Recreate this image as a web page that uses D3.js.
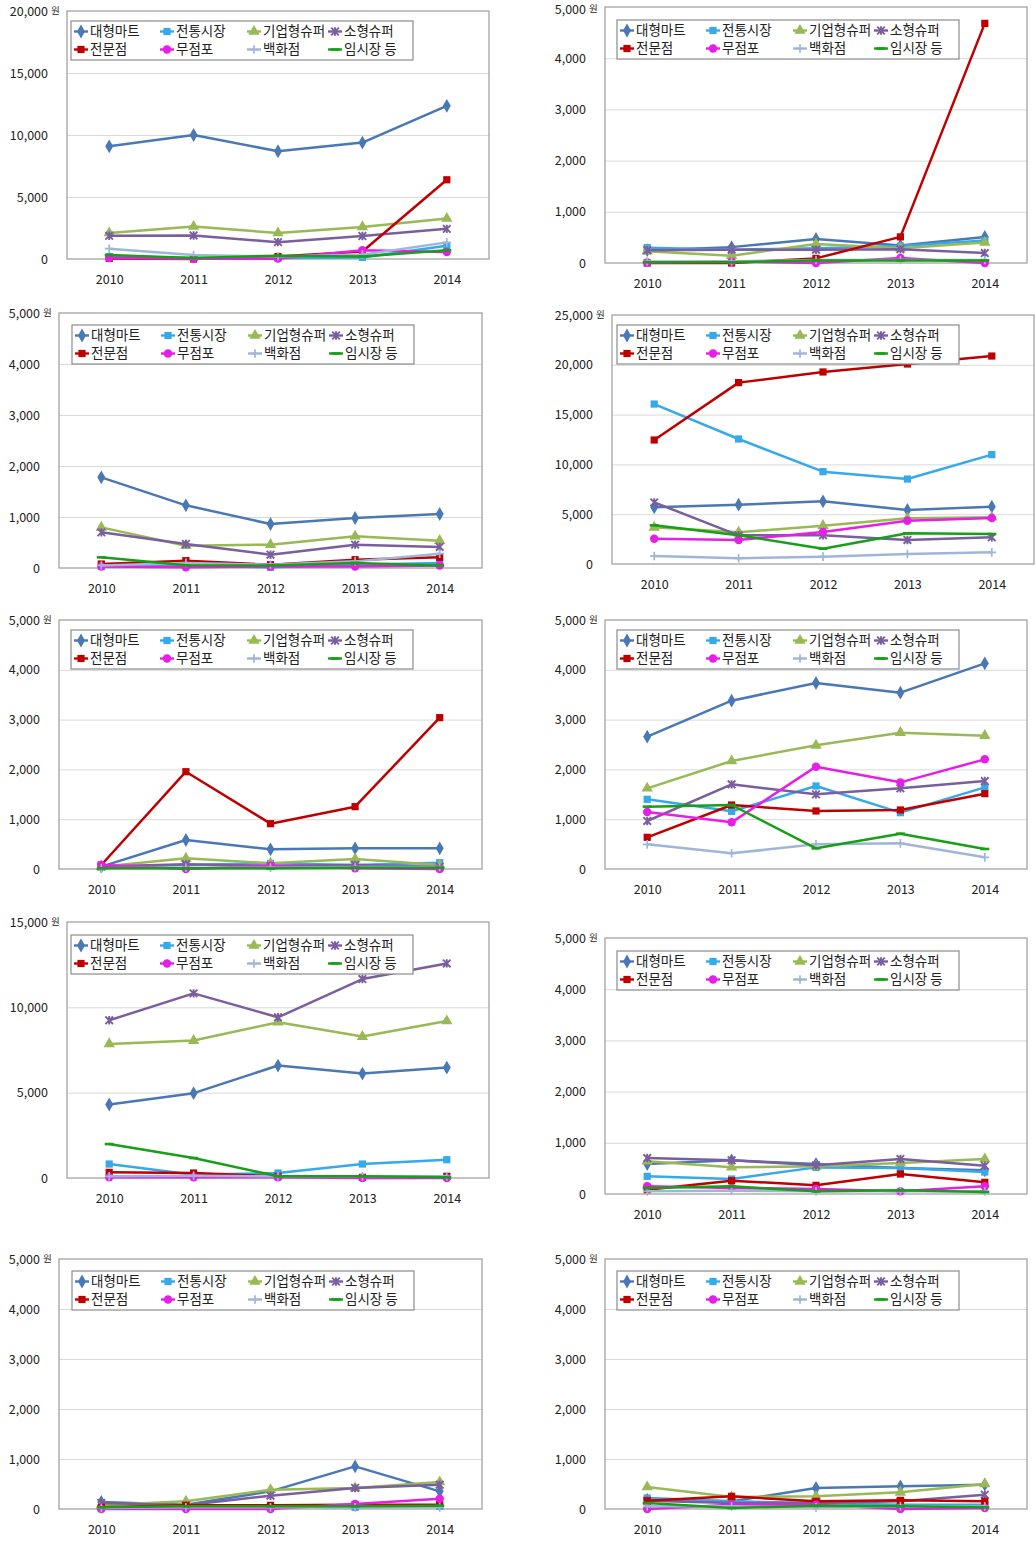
<!DOCTYPE html>
<html><head><meta charset="utf-8">
<script src="https://cdn.jsdelivr.net/npm/d3@7"></script>
<style>body{margin:0;background:#fff} svg text{font-family:"Noto Sans CJK KR","Noto Sans",sans-serif}</style>
</head><body><svg id="c" width="1036" height="1546"></svg>
<script>
// ---------- data ----------
const years = ["2010","2011","2012","2013","2014"];
const seriesNames = ["대형마트","전통시장","기업형슈퍼","소형슈퍼","전문점","무점포","백화점","임시장 등"];
const yMaxes = [20000,5000,5000,25000,5000,5000,15000,5000,5000,5000];
const ySteps = [5000,1000,1000,5000,1000,1000,5000,1000,1000,1000];
const unitLabel = "원";

const panel1 = [[9090,10000,8690,9390,12350],[200,80,80,130,1070],[2090,2620,2090,2590,3260],[1870,1900,1360,1850,2430],[50,0,200,600,6390],[80,20,30,700,560],[830,320,200,350,1340],[320,80,270,210,700]];
const panel2 = [[250,310,470,340,510],[300,260,290,330,440],[230,140,370,290,400],[250,260,260,270,195],[0,0,90,510,4680],[10,30,0,100,0],[30,30,60,60,60],[15,15,50,50,50]];
const panel3 = [[1778,1229,863,980,1059],[30,50,13,65,100],[797,438,458,621,536],[699,471,261,458,412],[78,144,65,163,209],[30,13,30,30,50],[50,100,65,130,280],[209,52,50,100,50]];
const panel4 = [[5690,5960,6290,5420,5760],[16060,12550,9270,8530,10980],[3680,3180,3850,4590,4690],[6190,2880,2880,2410,2680],[12450,18210,19280,20080,20880],[2540,2410,3210,4350,4620],[800,570,740,1000,1170],[3880,2880,1540,3080,3010]];
const panel5 = [[47,582,395,415,415],[47,80,114,80,127],[47,214,114,200,80],[50,94,60,80,47],[80,1954,910,1252,3039],[80,0,67,13,0],[13,27,27,40,40],[13,13,13,27,27]];
const panel6 = [[2657,3380,3735,3541,4130],[1399,1158,1667,1131,1640],[1620,2169,2483,2738,2677],[964,1700,1499,1620,1767],[636,1285,1165,1185,1513],[1145,937,2055,1740,2202],[495,315,495,515,234],[1252,1285,415,709,402]];
const panel7 = [[4308,4971,6589,6121,6472],[819,195,292,819,1072],[7856,8051,9123,8285,9201],[9240,10819,9415,11657,12573],[331,292,97,39,97],[39,39,39,0,0],[97,136,97,97,97],[1988,1170,97,97,39]];
const panel8 = [[586,658,586,508,462],[345,293,520,508,430],[638,521,540,605,684],[703,658,560,684,553],[85,260,169,390,228],[150,117,98,52,150],[52,65,52,52,52],[117,150,52,72,39]];
const panel9 = [[140,87,353,852,353],[20,53,53,33,53],[73,153,386,420,539],[120,73,266,420,486],[33,73,73,87,87],[0,0,0,100,206],[20,33,33,33,33],[33,53,53,53,67]];
const panel10 = [[186,153,420,453,486],[220,153,120,87,87],[439,240,253,333,499],[166,120,120,153,286],[166,253,153,173,153],[0,87,87,0,20],[53,53,33,53,53],[120,20,67,53,33]];
const panels = [panel1,panel2,panel3,panel4,panel5,panel6,panel7,panel8,panel9,panel10];

// ---------- layout & style ----------
const layout = [
 {l:67,t:11,r:489,b:259,lx:71,ly:21},
 {l:605,t:7,r:1027,b:263,lx:617,ly:20},
 {l:59,t:313,r:482,b:568,lx:72,ly:325},
 {l:612,t:315,r:1034,b:564,lx:617,ly:325},
 {l:59,t:620,r:482,b:869,lx:71,ly:630},
 {l:605,t:620,r:1027,b:869,lx:617,ly:630},
 {l:67,t:922,r:489,b:1178,lx:71,ly:935},
 {l:605,t:938,r:1027,b:1194,lx:617,ly:951},
 {l:59,t:1259,r:482,b:1509,lx:72,ly:1271},
 {l:605,t:1259,r:1027,b:1509,lx:617,ly:1271}
];
const colors = ["#4a78b4","#35a9ea","#98b954","#7a5e9e","#c00000","#e61ee6","#a0b6d8","#17a017"];
const markers = ["diamond","square","triangle","star","square","circle","plus","dash"];

const svg = d3.select("#c");

function drawMarker(g, type, x, y, color) {
  const tr = `translate(${x},${y})`;
  if (type === "diamond") g.append("path").attr("d", d3.symbol(d3.symbolDiamond, 55)()).attr("transform", tr).attr("fill", color);
  else if (type === "square") g.append("path").attr("d", d3.symbol(d3.symbolSquare, 52)()).attr("transform", tr).attr("fill", color);
  else if (type === "triangle") g.append("path").attr("d", d3.symbol(d3.symbolTriangle, 56)()).attr("transform", tr).attr("fill", color);
  else if (type === "circle") g.append("path").attr("d", d3.symbol(d3.symbolCircle, 56)()).attr("transform", tr).attr("fill", color);
  else if (type === "star") g.append("path").attr("d", "M-3.8,-3.8L3.8,3.8M-3.8,3.8L3.8,-3.8M0,-4.2L0,4.2").attr("transform", tr).attr("stroke", color).attr("stroke-width", 1.9).attr("fill","none");
  else if (type === "plus") g.append("path").attr("d", "M-4.3,0L4.3,0M0,-4.3L0,4.3").attr("transform", tr).attr("stroke", color).attr("stroke-width", 1.7).attr("fill","none");
  else if (type === "dash") g.append("path").attr("d", "M-4.5,0L4.5,0").attr("transform", tr).attr("stroke", color).attr("stroke-width", 2.6).attr("fill","none");
}

panels.forEach((data, pi) => {
  const L = layout[pi];
  const g = svg.append("g");
  const x = d3.scalePoint().domain(years).range([L.l, L.r]).padding(0.5);
  const y = d3.scaleLinear().domain([0, yMaxes[pi]]).range([L.b, L.t]);
  const ticks = d3.range(0, yMaxes[pi] + 1, ySteps[pi]);

  // gridlines
  const grid = g.append("g").attr("transform", `translate(${L.l},0)`)
    .call(d3.axisLeft(y).tickValues(ticks.slice(1, -1)).tickSize(-(L.r - L.l)).tickFormat(""));
  grid.select(".domain").remove();
  grid.selectAll("line").attr("stroke", "#d9d9d9").attr("stroke-width", 1);

  // plot border
  g.append("rect").attr("x", L.l).attr("y", L.t).attr("width", L.r - L.l).attr("height", L.b - L.t)
    .attr("fill", "none").attr("stroke", "#a3a3a3").attr("stroke-width", 1.3);

  // y axis labels
  const ya = g.append("g").attr("transform", `translate(${L.l},0)`)
    .call(d3.axisLeft(y).tickValues(ticks).tickSize(0).tickPadding(19).tickFormat(d3.format(",")));
  ya.select(".domain").remove();
  ya.selectAll("text").attr("font-size", 12.5).attr("fill", "#222");
  // keep the top label inside the page
  ya.selectAll(".tick").filter(d => d === yMaxes[pi]).select("text").attr("y", Math.max(0, 9 - L.t));
  g.append("text").attr("x", L.l - 16).attr("y", Math.max(y(yMaxes[pi]), 9)).attr("dy", "0.32em")
    .attr("font-size", 9.5).attr("fill", "#222").text(unitLabel);

  // x axis labels
  const xa = g.append("g").attr("transform", `translate(0,${L.b})`)
    .call(d3.axisBottom(x).tickSize(0).tickPadding(16));
  xa.select(".domain").remove();
  xa.selectAll("text").attr("font-size", 12.5).attr("fill", "#222");

  // series
  const line = d3.line().x((d, i) => x(years[i])).y(d => y(d));
  data.forEach((vals, si) => {
    const sg = g.append("g");
    sg.append("path").attr("d", line(vals)).attr("fill", "none").attr("stroke", colors[si])
      .attr("stroke-width", 2.5).attr("stroke-linejoin", "round");
    vals.forEach((v, i) => drawMarker(sg, markers[si], x(years[i]), y(v), colors[si]));
  });

  // legend
  const lg = g.append("g").attr("transform", `translate(${L.lx},${L.ly})`);
  lg.append("rect").attr("width", 342).attr("height", 39).attr("fill", "#fff").attr("stroke", "#8c8c8c").attr("stroke-width", 1.2);
  const colX = [3, 89, 176, 257];
  const rowY = [10.5, 28.5];
  seriesNames.forEach((name, si) => {
    const cx = colX[si % 4], cy = rowY[Math.floor(si / 4)];
    lg.append("line").attr("x1", cx).attr("x2", cx + 14).attr("y1", cy).attr("y2", cy)
      .attr("stroke", colors[si]).attr("stroke-width", 2.4);
    drawMarker(lg, markers[si], cx + 7, cy, colors[si]);
    lg.append("text").attr("x", cx + 16).attr("y", cy).attr("dy", "0.35em")
      .attr("font-size", 13.5).attr("fill", "#222").text(name);
  });
});
</script></body></html>
